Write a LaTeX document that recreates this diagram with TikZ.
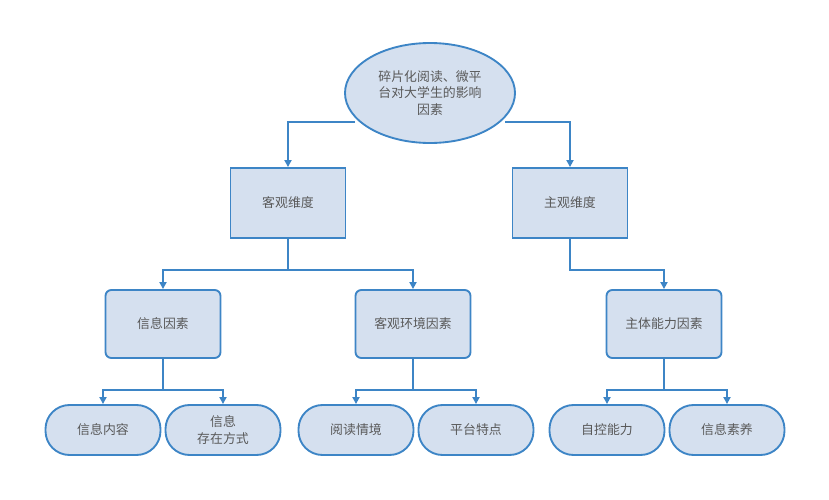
\documentclass[tikz,border=0pt]{standalone}
\usepackage{fontspec}
\newfontfamily\cjk{Noto Sans CJK SC}
\usetikzlibrary{shapes.geometric,arrows.meta}
\definecolor{boxfill}{HTML}{D5E0EF}
\definecolor{boxline}{HTML}{3D85C6}
\definecolor{txt}{HTML}{595959}
\begin{document}
\begin{tikzpicture}[x=0.03cm, y=-0.03cm,
  base/.style = {draw=boxline, fill=boxfill, line width=1.6pt, text=txt, font=\cjk\fontsize{11}{14}\selectfont, align=center},
  rootnode/.style = {base, ellipse, minimum width=170*0.03cm, minimum height=100*0.03cm, inner sep=0pt},
  dimbox/.style = {base, rectangle, minimum width=115*0.03cm, minimum height=70*0.03cm},
  factor/.style = {base, rectangle, rounded corners=5pt, minimum width=115*0.03cm, minimum height=68*0.03cm},
  leaf/.style = {base, rectangle, rounded corners=24*0.03cm, minimum width=115*0.03cm, minimum height=50*0.03cm},
  link/.style = {draw=boxline, line width=1.6pt, -{Triangle[width=6pt,length=6pt]}},
  plain/.style = {draw=boxline, line width=1.6pt}]
\useasboundingbox (0,0) rectangle (829,500);
\node[rootnode] (top) at (430,93) {碎片化阅读、微平\\台对大学生的影响\\因素};
\node[dimbox] (obj) at (288,203) {客观维度};
\node[dimbox] (sub) at (570,203) {主观维度};
\node[factor] (info) at (163,324) {信息因素};
\node[factor] (env) at (413,324) {客观环境因素};
\node[factor] (abil) at (664,324) {主体能力因素};
\node[leaf] (content) at (103,430) {信息内容};
\node[leaf] (form) at (223,430) {信息\\存在方式};
\node[leaf] (scene) at (356,430) {阅读情境};
\node[leaf] (feat) at (476,430) {平台特点};
\node[leaf] (self) at (607,430) {自控能力};
\node[leaf] (lit) at (727,430) {信息素养};
% connectors
\coordinate (tl) at (355,122);
\coordinate (tr) at (505,122);
\draw[link] (tl) -| (obj.north);
\draw[link] (tr) -| (sub.north);
\coordinate (j1) at (288,270);
\coordinate (j2) at (570,270);
\draw[plain] (obj.south) -- (j1);
\draw[link] (j1) -| (info.north);
\draw[link] (j1) -| (env.north);
\draw[link] (sub.south) |- (j2) -| (abil.north);
\coordinate (j3) at (163,390);
\coordinate (j4) at (413,390);
\coordinate (j5) at (664,390);
\draw[plain] (info.south) -- (j3);
\draw[link] (j3) -| (content.north);
\draw[link] (j3) -| (form.north);
\draw[plain] (env.south) -- (j4);
\draw[link] (j4) -| (scene.north);
\draw[link] (j4) -| (feat.north);
\draw[plain] (abil.south) -- (j5);
\draw[link] (j5) -| (self.north);
\draw[link] (j5) -| (lit.north);
\end{tikzpicture}
\end{document}
